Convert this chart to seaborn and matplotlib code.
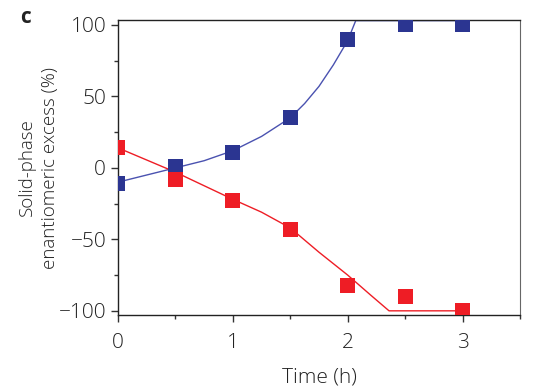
import matplotlib
matplotlib.use("Agg")
import matplotlib.pyplot as plt
from matplotlib.ticker import MultipleLocator
import seaborn as sns
import pandas as pd

# measured points
time_h = [0, 0.5, 1.0, 1.5, 2.0, 2.5, 3.0]
ee_blue = [-11, 1, 11, 35, 90, 100, 100]
ee_red = [14, -8, -23, -43, -82, -90, -100]

# fitted curves
curve_blue_x = [0, 0.25, 0.5, 0.75, 1.0, 1.25, 1.5, 1.625, 1.75, 1.875, 2.0, 2.07, 3.0]
curve_blue_y = [-10, -5, 0, 5, 12, 22, 35, 45, 57, 72, 89, 103, 103]
curve_red_x = [0, 0.5, 1.0, 1.25, 1.5, 1.75, 2.0, 2.2, 2.36, 3.02]
curve_red_y = [14, -3, -22, -31, -42, -59, -75, -89, -100, -100]

blue = "#2B3591"
red = "#EE1D25"

sns.set_style("ticks")
plt.rcParams["font.family"] = ["Open Sans", "DejaVu Sans"]

fig = plt.figure(figsize=(5.37, 3.9), dpi=100)
ax = fig.add_axes([0.2197, 0.192, 0.7486, 0.757])

sns.lineplot(x=curve_blue_x, y=curve_blue_y, ax=ax, color="#4A52B0", lw=1.0, sort=False)
sns.lineplot(x=curve_red_x, y=curve_red_y, ax=ax, color=red, lw=1.0, sort=False)

pts = pd.DataFrame({"t": time_h * 2, "ee": ee_blue + ee_red,
                    "s": ["b"] * len(time_h) + ["r"] * len(time_h)})
sns.scatterplot(data=pts, x="t", y="ee", hue="s", palette={"b": blue, "r": red},
                marker="s", s=115, linewidth=0, legend=False, ax=ax, zorder=3)

ax.set_xlim(0, 3.5)
ax.set_ylim(-103, 103.5)
ax.xaxis.set_minor_locator(MultipleLocator(0.5))
ax.yaxis.set_minor_locator(MultipleLocator(25))
ax.set_xticks([0, 1, 2, 3])
ax.set_xticklabels(["0", "1", "2", "3"], fontweight="light")
ax.set_yticks([-100, -50, 0, 50, 100])
ax.set_yticklabels(["\u2212100", "\u221250", "0", "50", "100"], fontweight="light")
ax.tick_params(which="major", direction="out", length=5, width=1, labelsize=15,
               colors="#333333", labelcolor="#222222")
ax.tick_params(which="minor", direction="out", length=3, width=1, colors="#333333")
ax.tick_params(axis="x", pad=8)

for side in ["left", "bottom", "top"]:
    ax.spines[side].set_color("#222222")
    ax.spines[side].set_linewidth(1.0)
ax.spines["right"].set_color("#666666")
ax.spines["right"].set_visible(True)
ax.spines["top"].set_visible(True)

ax.set_xlabel("Time (h)", fontsize=15, fontweight="light", color="#222222", labelpad=10)
ax.set_ylabel("Solid-phase\nenantiomeric excess (%)", fontsize=13.5, fontweight="light",
              color="#222222", labelpad=0, linespacing=1.35)

fig.text(0.037, 0.955, "c", fontsize=15, fontweight="bold", va="center", color="#222222")

fig.savefig("out.png", dpi=100)
